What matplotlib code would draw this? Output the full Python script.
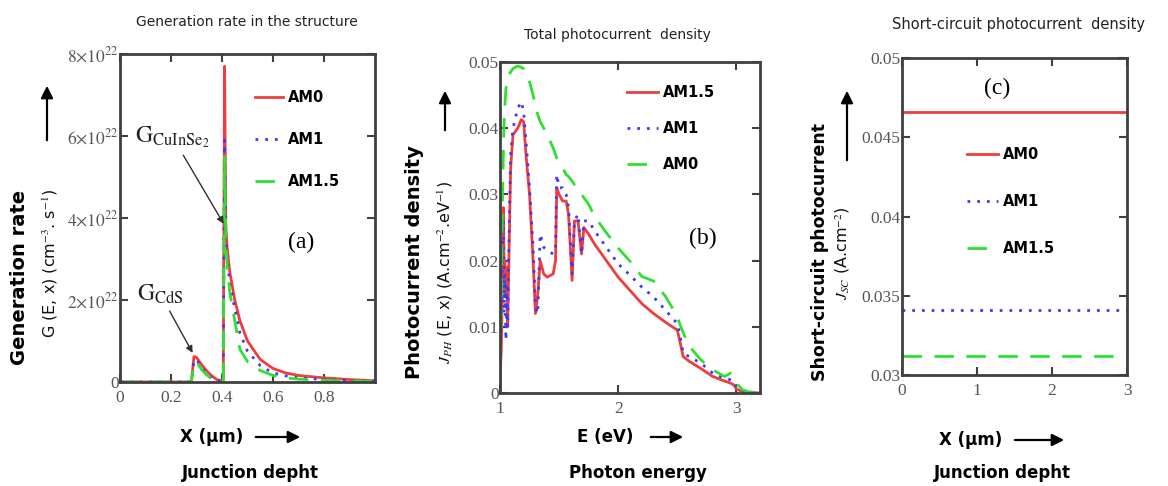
import matplotlib
matplotlib.use("Agg")
import matplotlib.pyplot as plt

plt.rcParams['font.family'] = ['DejaVu Sans']
plt.rcParams['mathtext.fontset'] = 'stix'

# ---- data -------------------------------------------------------------
# (a) generation rate, values in units of 1e22 cm-3 s-1
depth_a = [0, 0.1, 0.2, 0.28, 0.29, 0.30, 0.32, 0.34, 0.36, 0.38, 0.40, 0.405,
           0.41, 0.415, 0.42, 0.43, 0.45, 0.47, 0.50, 0.55, 0.60, 0.65, 0.70,
           0.80, 0.90, 1.00]
gen_am0 = [0, 0, 0, 0, 0.62, 0.60, 0.42, 0.27, 0.15, 0.06, 0.02, 0.05,
           7.7, 3.8, 3.3, 2.7, 2.0, 1.5, 1.0, 0.55, 0.33, 0.22, 0.16,
           0.10, 0.06, 0.03]
gen_am1 = [0, 0, 0, 0, 0.50, 0.55, 0.35, 0.20, 0.10, 0.04, 0.01, 0.30,
           5.9, 3.6, 3.1, 2.4, 1.8, 1.2, 0.75, 0.40, 0.22, 0.15, 0.10,
           0.06, 0.04, 0.02]
gen_am15 = [0, 0, 0, 0, 0.45, 0.50, 0.30, 0.17, 0.08, 0.03, 0.01, 0.02,
            5.5, 3.5, 2.9, 2.2, 1.5, 0.80, 0.50, 0.28, 0.16, 0.10, 0.07,
            0.04, 0.03, 0.01]

# (b) total photocurrent density vs photon energy
energy_b = [1.00, 1.01, 1.02, 1.03, 1.035, 1.04, 1.05, 1.06, 1.065, 1.075,
            1.09, 1.11, 1.15, 1.18, 1.20, 1.22, 1.25, 1.28, 1.30, 1.32,
            1.34, 1.37, 1.40, 1.45, 1.47, 1.48, 1.50, 1.53, 1.56, 1.58,
            1.61, 1.63, 1.66, 1.69, 1.71, 1.75, 1.80, 1.90, 2.00, 2.10,
            2.20, 2.30, 2.40, 2.50, 2.52, 2.55, 2.60, 2.70, 2.80, 2.90,
            2.95, 2.98, 3.00, 3.05, 3.10, 3.20]
jph_red = [0.003, 0.006, 0.015, 0.028, 0.017, 0.020, 0.015, 0.019, 0.010, 0.020,
           0.034, 0.039, 0.040, 0.0413, 0.041, 0.036, 0.030, 0.020, 0.012, 0.015,
           0.020, 0.018, 0.0175, 0.018, 0.020, 0.031, 0.030, 0.029, 0.029, 0.027,
           0.017, 0.026, 0.026, 0.021, 0.025, 0.024, 0.0225, 0.020, 0.0175, 0.0155,
           0.0135, 0.012, 0.0107, 0.0095, 0.008, 0.0055, 0.0048, 0.0037, 0.0025, 0.0018,
           0.0015, 0.0012, 0.0006, 0.0002, 0.0001, 0.0]
jph_blue = [0.002, 0.012, 0.020, 0.026, 0.012, 0.018, 0.008, 0.016, 0.010, 0.022,
            0.036, 0.040, 0.043, 0.044, 0.0425, 0.038, 0.031, 0.022, 0.013, 0.012,
            0.024, 0.022, 0.0215, 0.021, 0.022, 0.033, 0.031, 0.031, 0.030, 0.028,
            0.018, 0.026, 0.027, 0.021, 0.026, 0.026, 0.0245, 0.022, 0.0195, 0.0178,
            0.016, 0.0145, 0.0125, 0.0105, 0.009, 0.006, 0.0055, 0.0045, 0.003, 0.0022,
            0.002, 0.0018, 0.001, 0.0003, 0.0001, 0.0]
jph_green = [0.0, 0.013, 0.028, 0.038, 0.041, 0.043, 0.046, 0.047, 0.0475, 0.048,
             0.0485, 0.049, 0.0494, 0.0492, 0.049, 0.048, 0.047, 0.045, 0.0435, 0.042,
             0.041, 0.040, 0.039, 0.037, 0.036, 0.0355, 0.0348, 0.034, 0.033, 0.0327,
             0.032, 0.0315, 0.031, 0.030, 0.0295, 0.0285, 0.0267, 0.0242, 0.0219, 0.0199,
             0.0176, 0.0169, 0.0146, 0.0116, 0.0105, 0.0091, 0.0071, 0.005, 0.0035, 0.0025,
             0.003, 0.0022, 0.0015, 0.0005, 0.0002, 0.0]

# (c) short-circuit photocurrent density vs junction depth
depth_c = [0, 3]
jsc_am0 = [0.0466, 0.0466]
jsc_am1 = [0.0341, 0.0341]
jsc_am15 = [0.0312, 0.0312]

RED = '#f03c3c'
BLUE = '#3c3cf5'
GREEN = '#30e030'
AX_COL = '#404040'
W, H = 1168, 486

fig = plt.figure(figsize=(W / 100, H / 100), dpi=100)


def fx(px):
    return px / W


def fy(py):
    return 1 - py / H


def make_axes(left, top, right, bottom):
    ax = fig.add_axes([fx(left), fy(bottom), fx(right - left), (bottom - top) / H])
    for s in ax.spines.values():
        s.set_linewidth(2)
        s.set_color(AX_COL)
    ax.tick_params(direction='in', top=True, right=True, length=6, width=1.5,
                   color=AX_COL, labelsize=12.5, labelcolor='#555555')
    ax.tick_params(axis='y', pad=1)
    ax.tick_params(axis='x', pad=6)
    return ax


def serif_ticks(ax):
    for lab in ax.get_xticklabels() + ax.get_yticklabels():
        lab.set_family('Liberation Serif')


def up_arrow(x, y0, y1):
    fig.add_artist(matplotlib.patches.FancyArrowPatch(
        (fx(x), fy(y0)), (fx(x), fy(y1)), transform=fig.transFigure,
        arrowstyle='-|>', mutation_scale=18, color='black', lw=1.6))


def right_arrow(x0, x1, y):
    fig.add_artist(matplotlib.patches.FancyArrowPatch(
        (fx(x0), fy(y)), (fx(x1), fy(y)), transform=fig.transFigure,
        arrowstyle='-|>', mutation_scale=18, color='black', lw=1.6))


dots = (0, (1, 2.5))
dashes = (0, (7, 4.5))

# ---- (a) ---------------------------------------------------------------
ax = make_axes(120, 54, 375, 382)
g = 1e22
ax.plot(depth_a, [v * g for v in gen_am0], color=RED, lw=2, label='AM0')
ax.plot(depth_a, [v * g for v in gen_am1], color=BLUE, lw=2, linestyle=dots, label='AM1')
ax.plot(depth_a, [v * g for v in gen_am15], color=GREEN, lw=2, linestyle=dashes, label='AM1.5')
ax.set_xlim(0, 1.0)
ax.set_ylim(0, 8e22)
ax.set_xticks([0, 0.2, 0.4, 0.6, 0.8])
ax.set_xticklabels(['0', '0.2', '0.4', '0.6', '0.8'])
ax.set_yticks([0, 2e22, 4e22, 6e22, 8e22])
ax.set_yticklabels(['0', r'$2{\times}10^{22}$', r'$4{\times}10^{22}$',
                    r'$6{\times}10^{22}$', r'$8{\times}10^{22}$'])
serif_ticks(ax)
ax.legend(loc='upper left', bbox_to_anchor=(0.53, 0.89), frameon=False,
          borderpad=0, borderaxespad=0, handlelength=1.9, handletextpad=0.35,
          labelspacing=1.85, prop={'weight': 'bold', 'size': 10.5})
ax.annotate(r'$\mathrm{G_{CuInSe_2}}$', xy=(0.412, 3.8e22), xytext=(0.06, 5.97e22),
            fontsize=17, color='#202020', va='center',
            arrowprops=dict(arrowstyle='-|>', color='#303030', lw=1, mutation_scale=10))
ax.annotate(r'$\mathrm{G_{CdS}}$', xy=(0.29, 0.65e22), xytext=(0.066, 2.15e22),
            fontsize=17, color='#202020', va='center',
            arrowprops=dict(arrowstyle='-|>', color='#303030', lw=1, mutation_scale=10))
ax.text(0.71, 3.4e22, '(a)', fontsize=17, family='Liberation Serif', ha='center', va='center')

fig.text(fx(247), fy(22), 'Generation rate in the structure', fontsize=10,
         ha='center', va='center', color='#222222')
fig.text(fx(20), fy(277), 'Generation rate', fontsize=14, weight='bold',
         rotation=90, ha='center', va='center')
fig.text(fx(50), fy(263), 'G (E, x) (cm$^{-3}$. s$^{-1}$)', fontsize=11.5,
         rotation=90, ha='center', va='center', color='#111111')
up_arrow(47, 143, 83)
fig.text(fx(212), fy(437), 'X (μm)', fontsize=12, weight='bold', ha='center', va='center')
right_arrow(253, 303, 437)
fig.text(fx(250), fy(473), 'Junction depht', fontsize=12, weight='bold',
         ha='center', va='center')

# ---- (b) ---------------------------------------------------------------
ax = make_axes(500, 62, 760, 393)
ax.plot(energy_b, jph_red, color=RED, lw=2, label='AM1.5')
ax.plot(energy_b, jph_blue, color=BLUE, lw=2, linestyle=dots, label='AM1')
ax.plot(energy_b, jph_green, color=GREEN, lw=2, linestyle=dashes, label='AM0')
ax.set_xlim(1, 3.2)
ax.set_ylim(0, 0.05)
ax.set_xticks([1, 2, 3])
ax.set_xticklabels(['1', '2', '3'])
ax.set_yticks([0, 0.01, 0.02, 0.03, 0.04, 0.05])
ax.set_yticklabels(['0', '0.01', '0.02', '0.03', '0.04', '0.05'])
serif_ticks(ax)
ax.legend(loc='upper left', bbox_to_anchor=(0.49, 0.93), frameon=False,
          borderpad=0, borderaxespad=0, handlelength=2.1, handletextpad=0.35,
          labelspacing=1.45, prop={'weight': 'bold', 'size': 10.5})
ax.text(2.72, 0.0234, '(b)', fontsize=17, family='Liberation Serif', ha='center', va='center')

fig.text(fx(617), fy(35), 'Total photocurrent  density', fontsize=10,
         ha='center', va='center', color='#222222')
fig.text(fx(415), fy(262), 'Photocurrent density', fontsize=14, weight='bold',
         rotation=90, ha='center', va='center')
fig.text(fx(445), fy(272), '$J_{PH}$ (E, x) (A.cm$^{-2}$.eV$^{-1}$)', fontsize=11.5,
         rotation=90, ha='center', va='center', color='#111111')
up_arrow(445, 133, 88)
fig.text(fx(605), fy(437), 'E (eV)', fontsize=12, weight='bold', ha='center', va='center')
right_arrow(648, 686, 437)
fig.text(fx(638), fy(473), 'Photon energy', fontsize=12, weight='bold',
         ha='center', va='center')

# ---- (c) ---------------------------------------------------------------
ax = make_axes(902, 58, 1127, 375)
ax.plot(depth_c, jsc_am0, color=RED, lw=2, label='AM0')
ax.plot(depth_c, jsc_am1, color=BLUE, lw=2, linestyle=dots, label='AM1')
ax.plot(depth_c, jsc_am15, color=GREEN, lw=2, linestyle=dashes, label='AM1.5')
ax.set_xlim(0, 3)
ax.set_ylim(0.03, 0.05)
ax.set_xticks([0, 1, 2, 3])
ax.set_xticklabels(['0', '1', '2', '3'])
ax.set_yticks([0.03, 0.035, 0.04, 0.045, 0.05])
ax.set_yticklabels(['0.03', '0.035', '0.04', '0.045', '0.05'])
serif_ticks(ax)
ax.legend(loc='upper left', bbox_to_anchor=(0.29, 0.72), frameon=False,
          borderpad=0, borderaxespad=0, handlelength=2.1, handletextpad=0.35,
          labelspacing=2.2, prop={'weight': 'bold', 'size': 10.5})
ax.text(1.27, 0.0481, '(c)', fontsize=17, family='Liberation Serif', ha='center', va='center')

fig.text(fx(1018), fy(25), 'Short-circuit photocurrent  density', fontsize=10.5,
         ha='center', va='center', color='#222222')
fig.text(fx(820), fy(252), 'Short-circuit photocurrent', fontsize=12.5, weight='bold',
         rotation=90, ha='center', va='center')
fig.text(fx(843), fy(253), '$J_{SC}$ (A.cm$^{-2}$)', fontsize=11.5,
         rotation=90, ha='center', va='center', color='#111111')
up_arrow(847, 163, 88)
fig.text(fx(971), fy(440), 'X (μm)', fontsize=12, weight='bold', ha='center', va='center')
right_arrow(1012, 1067, 440)
fig.text(fx(1002), fy(473), 'Junction depht', fontsize=12, weight='bold',
         ha='center', va='center')

fig.savefig('out.png', dpi=100)
